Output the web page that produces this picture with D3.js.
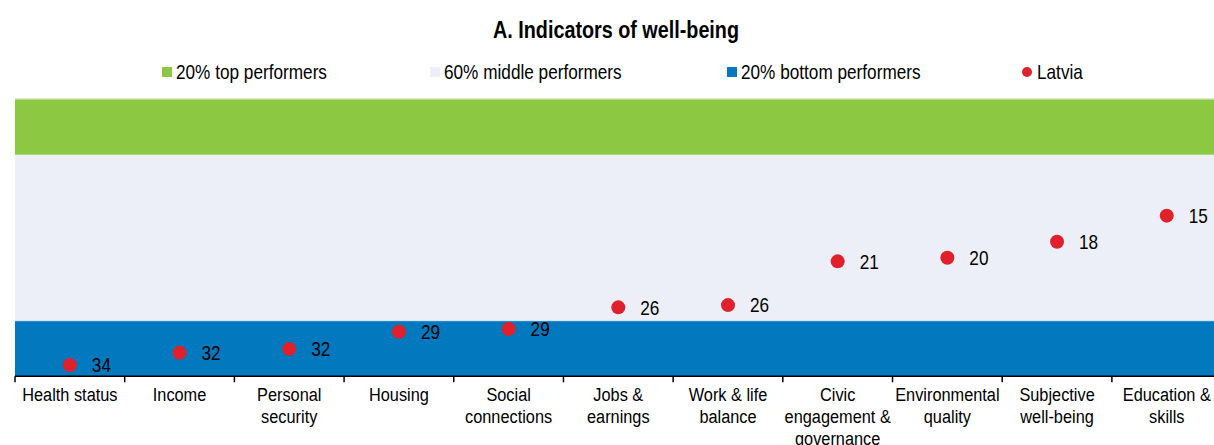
<!DOCTYPE html>
<html>
<head>
<meta charset="utf-8">
<script src="https://cdn.jsdelivr.net/npm/d3@7"></script>
<style>
  body { margin: 0; background: #fff; }
  text { font-family: 'Liberation Sans', Arial, sans-serif; fill: #000; }
</style>
</head>
<body>
<div id="chart"></div>
<script>
// categories along the x axis and their tick label lines
const categories = ["Health status", "Income", "Personal security", "Housing", "Social connections",
  "Jobs & earnings", "Work & life balance", "Civic engagement & governance", "Environmental quality",
  "Subjective well-being", "Education & skills"];
const tickLines = [["Health status"], ["Income"], ["Personal", "security"], ["Housing"], ["Social", "connections"],
  ["Jobs &", "earnings"], ["Work & life", "balance"], ["Civic", "engagement &", "governance"], ["Environmental", "quality"],
  ["Subjective", "well-being"], ["Education &", "skills"]];
// relative position of Latvia (0 = bottom, 1 = top) and its rank label
const latviaScore = [0.041, 0.085, 0.099, 0.161, 0.171, 0.249, 0.257, 0.415, 0.428, 0.486, 0.580];
const latviaRank = [34, 32, 32, 29, 29, 26, 26, 21, 20, 18, 15];
// performer bands
const bandNames = ["20% bottom performers", "60% middle performers", "20% top performers"];
const bandFrom = [0, 0.2, 0.8];
const bandTo = [0.2, 0.8, 1];
const bandColors = ["#0279bf", "#eceff7", "#8cc841"];
const dotColor = "#e0202b";

const width = 1214, height = 445;
// no narrow font installed: squeeze the regular one horizontally
const NARROW = 0.86;

let svg = d3.select("#chart").append("svg")
    .attr("width", width)
    .attr("height", height);

// x scale: plot runs a little past the right edge of the picture
let x = d3.scaleBand()
    .domain(categories)
    .range([15, 1221.6]);

let y = d3.scaleLinear()
    .domain([0, 1])
    .range([376.3, 99.3]);

// bands
svg.append("g").selectAll("rect")
    .data(bandNames)
    .enter()
    .append("rect")
    .attr("x", x.range()[0])
    .attr("width", x.range()[1] - x.range()[0])
    .attr("y", (d, i) => y(bandTo[i]))
    .attr("height", (d, i) => y(bandFrom[i]) - y(bandTo[i]))
    .attr("fill", (d, i) => bandColors[i]);

// thin edges seen on the reference
svg.append("line")
    .attr("x1", x.range()[0]).attr("x2", x.range()[1])
    .attr("y1", y(1) - 0.5).attr("y2", y(1) - 0.5)
    .attr("stroke", "#cfe0bc");
svg.append("line")
    .attr("x1", x.range()[0]).attr("x2", x.range()[1])
    .attr("y1", y(0.2) + 0.5).attr("y2", y(0.2) + 0.5)
    .attr("stroke", "#2b8fd0");

// x axis
let xAxis = svg.append("g")
    .attr("transform", `translate(0, ${y(0)})`);
xAxis.append("line")
    .attr("x1", x.range()[0]).attr("x2", x.range()[1])
    .attr("stroke", "#000")
    .attr("stroke-width", 1.5);
xAxis.selectAll(".tick")
    .data(categories)
    .enter()
    .append("line")
    .attr("class", "tick")
    .attr("x1", d => x(d)).attr("x2", d => x(d))
    .attr("y1", 0).attr("y2", 6)
    .attr("stroke", "#000")
    .attr("stroke-width", 1.5);

let labels = xAxis.selectAll(".lbl")
    .data(categories)
    .enter()
    .append("text")
    .attr("class", "lbl")
    .attr("text-anchor", "middle")
    .style("font-size", "19px")
    .attr("transform", d => `translate(${x(d) + x.bandwidth() / 2}, 0) scale(${NARROW}, 1)`);
labels.each(function(d, i) {
  d3.select(this).selectAll("tspan")
    .data(tickLines[i])
    .enter()
    .append("tspan")
    .attr("x", 0)
    .attr("y", (t, j) => 24.5 + j * 22)
    .text(t => t);
});

// Latvia dots
svg.append("g").selectAll("circle")
    .data(categories)
    .enter()
    .append("circle")
    .attr("cx", d => x(d) + x.bandwidth() / 2)
    .attr("cy", (d, i) => y(latviaScore[i]))
    .attr("r", 7)
    .attr("fill", dotColor);

svg.append("g").selectAll("text")
    .data(categories)
    .enter()
    .append("text")
    .attr("transform", (d, i) => `translate(${x(d) + x.bandwidth() / 2 + 22}, ${y(latviaScore[i])}) scale(${NARROW}, 1)`)
    .attr("dy", "0.36em")
    .style("font-size", "20px")
    .text((d, i) => latviaRank[i]);

// title
svg.append("text")
    .attr("transform", `translate(616, 38) scale(${NARROW}, 1)`)
    .attr("text-anchor", "middle")
    .style("font-size", "23px")
    .style("font-weight", "bold")
    .text("A. Indicators of well-being");

// legend
const legendX = [162, 430, 727, 1022];
const legendItems = [bandNames[2], bandNames[1], bandNames[0], "Latvia"];
const legendColors = [bandColors[2], bandColors[1], bandColors[0], dotColor];
let legend = svg.append("g").selectAll("g")
    .data(legendItems)
    .enter()
    .append("g")
    .attr("transform", (d, i) => `translate(${legendX[i]}, 72)`);
legend.each(function(d, i) {
  let g = d3.select(this);
  if (d === "Latvia") {
    g.append("circle").attr("cx", 5).attr("cy", 0).attr("r", 5).attr("fill", legendColors[i]);
  } else {
    g.append("rect").attr("x", 0).attr("y", -5).attr("width", 10).attr("height", 10).attr("fill", legendColors[i]);
  }
  g.append("text")
    .attr("transform", `translate(${d === "Latvia" ? 15 : 14}, 0) scale(${NARROW}, 1)`)
    .attr("dy", "0.36em")
    .style("font-size", "20px")
    .text(d);
});
</script>
</body>
</html>
